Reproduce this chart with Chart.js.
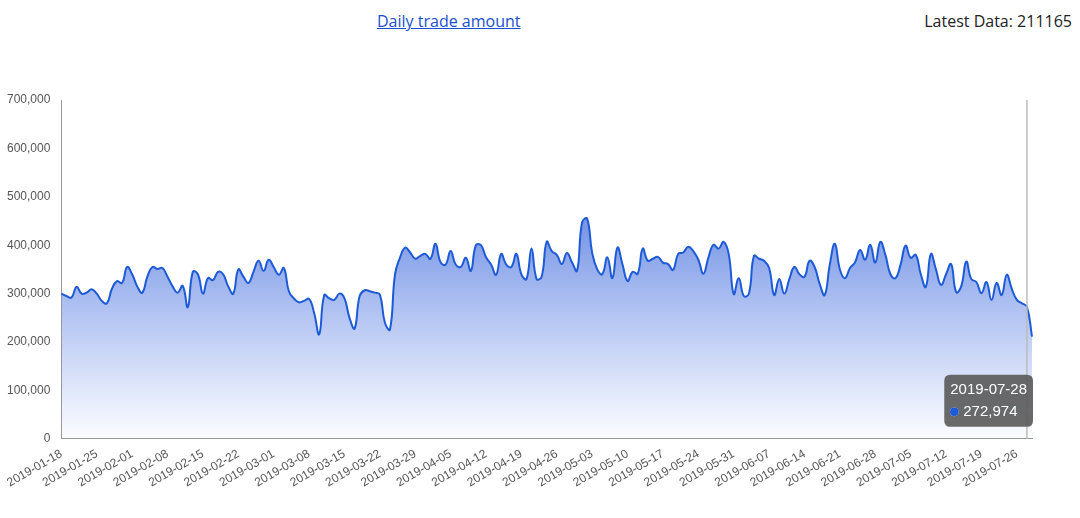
<!DOCTYPE html>
<html><head><meta charset="utf-8">
<script src="https://cdn.jsdelivr.net/npm/chart.js@4"></script>
<style>
body{margin:0;width:1080px;height:518px;font-family:"Open Sans","DejaVu Sans",sans-serif;background:#fff;position:relative;overflow:hidden}
#t{position:absolute;left:377px;top:10px;font-size:16px;color:#1a4fd0;text-decoration:underline}
#l{position:absolute;right:8px;top:10px;font-size:16px;color:#222}
#w{position:absolute;left:0;top:88px;width:1080px;height:430px}
</style></head><body>
<div id="t">Daily trade amount</div>
<div id="l">Latest Data: 211165</div>
<div id="w"><canvas id="c"></canvas></div>
<script>
const startDate = "2019-01-18";
const valuesK = [300,295,292,314,300,302,309,300,285,280,310,326,322,355,340,315,302,335,355,351,353,335,315,302,316,272,345,340,300,332,328,345,340,315,300,350,335,322,345,368,347,370,355,339,353,305,290,282,
285,289,260,216,297,290,287,300,290,250,228,295,307,305,302,298,240,226,340,375,395,385,372,378,382,372,403,365,360,388,360,355,374,347,400,400,375,360,339,382,360,355,382,340,330,393,330,
335,407,388,380,361,384,365,347,447,455,384,350,340,375,332,395,360,326,345,341,393,368,372,376,364,361,349,382,385,397,388,370,341,375,401,393,407,382,299,332,295,300,378,372,368,353,297,330,
300,330,355,340,335,368,355,320,297,360,403,350,332,353,365,390,370,401,364,407,380,340,332,360,399,374,380,340,314,382,350,318,340,361,303,315,366,330,324,301,324,287,322,297,339,310,287,280,272.974,211.165];
const values = valuesK.map(v=>Math.round(v*1000));
const labels = values.map((_,i)=>{const d=new Date(Date.UTC(2019,0,18+i));return d.toISOString().slice(0,10);});
const activeIndex = 191;
Chart.Tooltip.positioners.corner=function(){const a=this.chart.chartArea;return {x:a.right-5,y:a.bottom-10};};
const hoverLine={id:'hl',afterDatasetsDraw(ch){const a=ch.tooltip.getActiveElements();if(!a.length)return;const x=a[0].element.x,ctx=ch.ctx;ctx.save();ctx.strokeStyle='#bbb';ctx.lineWidth=1.5;ctx.beginPath();ctx.moveTo(x,ch.chartArea.top);ctx.lineTo(x,ch.chartArea.bottom);ctx.stroke();ctx.restore();}};
const ch=new Chart(document.getElementById('c'),{type:'line',
data:{labels,datasets:[{data:values,borderColor:'#1d5bd6',borderWidth:2,pointRadius:0,pointHoverRadius:0,tension:0.45,fill:true,
backgroundColor(ctx){const a=ctx.chart.chartArea;if(!a)return'#9ab';const g=ctx.chart.ctx.createLinearGradient(0,a.top+130,0,a.bottom);g.addColorStop(0,'rgba(100,135,225,0.85)');g.addColorStop(1,'rgba(120,150,235,0.03)');return g;}}]},
options:{responsive:true,maintainAspectRatio:false,animation:false,events:[],
layout:{padding:{left:4,right:48,top:12,bottom:0}},
interaction:{mode:'index',intersect:false},
plugins:{legend:{display:false},tooltip:{enabled:true,position:'corner',backgroundColor:'rgba(90,90,90,0.9)',titleFont:{size:15,weight:'normal'},bodyFont:{size:15},titleMarginBottom:4,padding:6,caretSize:0,usePointStyle:true,boxWidth:8,boxHeight:8,boxPadding:3,yAlign:'bottom',xAlign:'right',
callbacks:{label:c=>c.parsed.y.toLocaleString('en-US'),labelColor:()=>({borderColor:'#1d5bd6',backgroundColor:'#1d5bd6'}),labelPointStyle:()=>({pointStyle:'circle',rotation:0})}}},
scales:{x:{grid:{display:false,drawTicks:true,tickLength:5},border:{color:'#999'},
ticks:{autoSkip:false,maxRotation:30,minRotation:30,color:'#555',font:{size:12},callback:function(v,i){return i%7===0?labels[i]:'';}}},
y:{min:0,max:700000,afterFit(s){},grid:{display:false},border:{color:'#999'},ticks:{stepSize:100000,color:'#555',font:{size:12},callback:v=>v.toLocaleString('en-US')}}}},
plugins:[hoverLine,{id:'pad',beforeLayout(ch){}}]});
// shrink plot so bottom sits higher
ch.options.layout.padding.bottom=0;
ch.canvas.parentNode.style.height='405px';
ch.resize();
const pt=ch.getDatasetMeta(0).data[activeIndex];
ch.tooltip.setActiveElements([{datasetIndex:0,index:activeIndex}],{x:pt.x,y:ch.chartArea.bottom-10});
ch.update();
</script></body></html>
